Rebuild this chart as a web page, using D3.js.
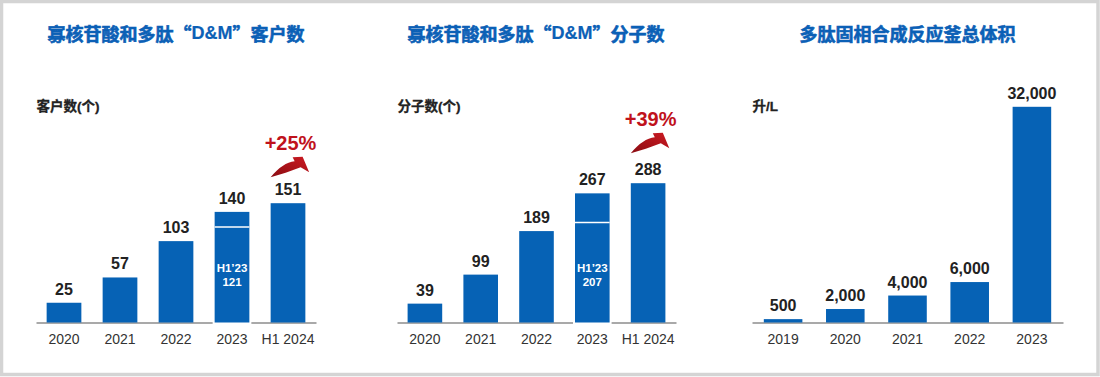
<!DOCTYPE html>
<html>
<head>
<meta charset="utf-8">
<title>D&M</title>
<script src="https://cdn.jsdelivr.net/npm/d3@7"></script>
<style>
  body { margin: 0; background: #fff; }
  svg text { font-family: "Liberation Sans", Arial, "Noto Sans CJK SC", sans-serif; }
</style>
</head>
<body>
<div id="chart"></div>
<script>
// data
const years1 = ['2020', '2021', '2022', '2023', 'H1 2024'];
const customers = [25, 57, 103, 140, 151];
const customersH1 = 121;      // H1'23 part of the 2023 bar
const molecules = [39, 99, 189, 267, 288];
const moleculesH1 = 207;
const years3 = ['2019', '2020', '2021', '2022', '2023'];
const reactorVolume = [500, 2000, 4000, 6000, 32000];
const growth = ['+25%', '+39%'];

const width = 1100;
const height = 377;
const baseY = 322.5;
const blue = '#0662b5';
const red = '#c0121c';

const svg = d3.select('#chart')
  .append('svg')
  .attr('width', width)
  .attr('height', height);

// frame
svg.append('rect')
  .attr('x', 1.5).attr('y', 1.5)
  .attr('width', width - 3.5).attr('height', height - 4)
  .attr('fill', 'none')
  .attr('stroke', '#d4d4d4')
  .attr('stroke-width', 3.5);

// arrow gradient
const grad = svg.append('defs').append('linearGradient')
  .attr('id', 'arrowGrad')
  .attr('x1', '0%').attr('y1', '100%').attr('x2', '100%').attr('y2', '0%');
grad.append('stop').attr('offset', '0%').attr('stop-color', '#8a0c12');
grad.append('stop').attr('offset', '100%').attr('stop-color', '#cc1a22');

const panels = [
  { title: '寡核苷酸和多肽“D&M”客户数', yLabel: '客户数(个)', cats: years1, values: customers,
    h1: customersH1, h1Cat: '2023', growth: growth[0], x0: 36, x1: 316, plotH: 119.3, titleX: 176, lift: 53 },
  { title: '寡核苷酸和多肽“D&M”分子数', yLabel: '分子数(个)', cats: years1, values: molecules,
    h1: moleculesH1, h1Cat: '2023', growth: growth[1], x0: 397, x1: 676, plotH: 139.3, titleX: 536, lift: 57 },
  { title: '多肽固相合成反应釜总体积', yLabel: '升/L', cats: years3, values: reactorVolume,
    x0: 752, x1: 1063, plotH: 215.7, titleX: 907.5, fmt: d3.format(',') }
];

function drawPanel(p) {
  const g = svg.append('g');

  const x = d3.scaleBand()
    .domain(p.cats)
    .range([p.x0, p.x1])
    .paddingInner(0.38)
    .paddingOuter(0.19);

  const y = d3.scaleLinear()
    .domain([0, d3.max(p.values)])
    .range([baseY, baseY - p.plotH]);

  // title, D&M in a latin face
  const t = g.append('text')
    .attr('x', p.titleX)
    .attr('y', 33)
    .attr('text-anchor', 'middle')
    .attr('dominant-baseline', 'central')
    .attr('fill', '#0b60b6')
    .attr('stroke', '#0b60b6')
    .attr('stroke-width', 0.6)
    .attr('font-weight', 'bold')
    .style('font-size', '18px')
    .style('font-family', '"Noto Sans CJK SC", sans-serif');
  p.title.split(/(D&M)/).forEach(part => {
    const s = t.append('tspan').text(part);
    if (part === 'D&M') s.style('font-family', '"Liberation Sans", Arial, sans-serif').attr('stroke-width', 0.2);
  });

  g.append('text')
    .attr('x', p.x0 + 0.5)
    .attr('y', 106)
    .attr('dominant-baseline', 'central')
    .attr('font-weight', 'bold')
    .attr('fill', '#222')
    .attr('stroke', '#222')
    .attr('stroke-width', 0.3)
    .style('font-size', '13.5px')
    .text(p.yLabel);

  // x axis
  g.append('g')
    .attr('transform', `translate(0,${baseY})`)
    .call(d3.axisBottom(x).tickSize(0).tickSizeOuter(0).tickPadding(11.5))
    .call(a => a.select('.domain').attr('stroke', '#8c8c8c').attr('stroke-width', 1.5))
    .call(a => a.selectAll('text').attr('fill', '#333').style('font-size', '14px'));

  const data = p.cats.map((c, i) => ({ cat: c, v: p.values[i] }));

  // small white gap in the axis around the split bar
  if (p.h1Cat) {
    g.append('rect')
      .attr('x', x(p.h1Cat) - 2)
      .attr('y', baseY - 2)
      .attr('width', x.bandwidth() + 4)
      .attr('height', 4)
      .attr('fill', '#fff');
  }

  g.selectAll('rect.bar')
    .data(data)
    .join('rect')
    .attr('class', 'bar')
    .attr('x', d => x(d.cat))
    .attr('y', d => y(d.v))
    .attr('width', x.bandwidth())
    .attr('height', d => baseY - y(d.v))
    .attr('fill', blue);

  g.selectAll('text.val')
    .data(data)
    .join('text')
    .attr('class', 'val')
    .attr('x', d => x(d.cat) + x.bandwidth() / 2)
    .attr('y', d => y(d.v) - 8)
    .attr('text-anchor', 'middle')
    .attr('font-weight', 'bold')
    .attr('fill', '#222')
    .style('font-size', '16px')
    .text(d => p.fmt ? p.fmt(d.v) : d.v);

  if (p.h1Cat) {
    const bx = x(p.h1Cat);
    const cx = bx + x.bandwidth() / 2;
    g.append('line')
      .attr('x1', bx).attr('x2', bx + x.bandwidth())
      .attr('y1', y(p.h1)).attr('y2', y(p.h1))
      .attr('stroke', '#fff')
      .attr('stroke-width', 1.5);
    g.append('text')
      .attr('x', cx).attr('y', baseY - 51)
      .attr('text-anchor', 'middle')
      .attr('font-weight', 'bold')
      .attr('fill', '#fff')
      .style('font-size', '11.5px')
      .text('H1’23');
    g.append('text')
      .attr('x', cx).attr('y', baseY - 37)
      .attr('text-anchor', 'middle')
      .attr('font-weight', 'bold')
      .attr('fill', '#fff')
      .style('font-size', '11.5px')
      .text(p.h1);
  }

  if (p.growth) {
    const last = data[data.length - 1];
    const lx = x(last.cat);
    const top = y(last.v);
    g.append('text')
      .attr('x', lx + x.bandwidth() / 2 + 2.5)
      .attr('y', top - p.lift)
      .attr('text-anchor', 'middle')
      .attr('font-weight', 'bold')
      .attr('fill', red)
      .style('font-size', '20px')
      .text(p.growth);
    g.append('path')
      .attr('transform', `translate(${lx},${top - p.lift + 27})`)
      .attr('d', 'M0,0 C8,-10 16,-15 24,-16 L22,-20 L32,-20.5 L38.5,-5 L30,-10 C20,-6 10,-3 0,0 Z')
      .attr('fill', 'url(#arrowGrad)');
  }
}

panels.forEach(drawPanel);
</script>
</body>
</html>
